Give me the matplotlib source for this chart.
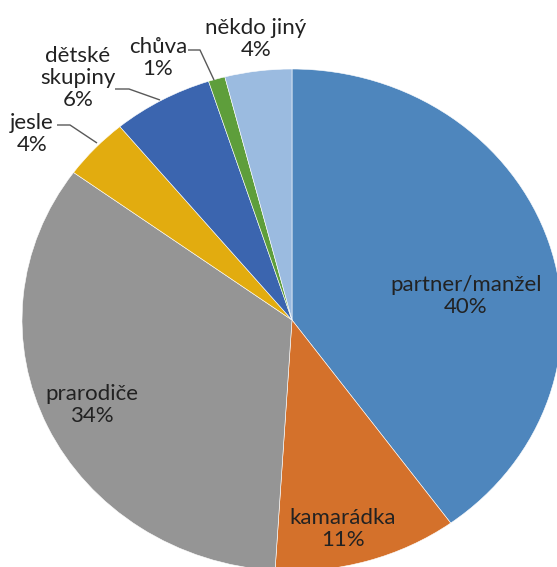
import matplotlib
matplotlib.use("Agg")
import matplotlib.pyplot as plt

categories = ["partner/manžel", "kamarádka", "prarodiče", "jesle",
              "dětské\nskupiny", "chůva", "někdo jiný"]
values = [40, 11, 34, 4, 6, 1, 4]
colors = ["#4E86BD", "#D4712B", "#959595", "#E2AC0F", "#3B65AF", "#5E9E3B", "#9BBBE0"]

W, H = 557, 567
CX, CY, RX, RY = 292, 320, 270, 251

fig = plt.figure(figsize=(W / 100, H / 100), dpi=100)
ax = fig.add_axes([0, 0, 1, 1])
ax.pie(values, colors=colors, startangle=90, counterclock=False,
       wedgeprops=dict(edgecolor="white", linewidth=0.4))
ax.set_aspect("auto")
ax.set_xlim(-CX / RX, (W - CX) / RX)
ax.set_ylim(-(H - CY) / RY, CY / RY)
ax.axis("off")


def d(px, py):
    return ((px - CX) / RX, (CY - py) / RY)


font = dict(family=["Lato", "DejaVu Sans"], fontsize=16, color="#222222",
            ha="center", va="center", linespacing=1.15)

# label positions in pixel coords (layout only)
label_pos = [(466, 296), (343, 529), (92, 405), (32, 134),
             (78, 78), (158, 58), (256, 39)]
for cat, val, (px, py) in zip(categories, values, label_pos):
    ax.text(*d(px, py), f"{cat}\n{val}%", **font)

# leader lines
leaders = [
    [(57, 125), (70, 125), (97, 143)],     # jesle
    [(115, 89), (129, 89), (160, 100)],    # dětské skupiny
    [(188, 50), (200, 50), (214, 80)],     # chůva
]
for pts in leaders:
    xs, ys = zip(*[d(*p) for p in pts])
    ax.plot(xs, ys, color="#595959", linewidth=1.0, solid_capstyle="butt")

fig.savefig("out.png", dpi=100)
